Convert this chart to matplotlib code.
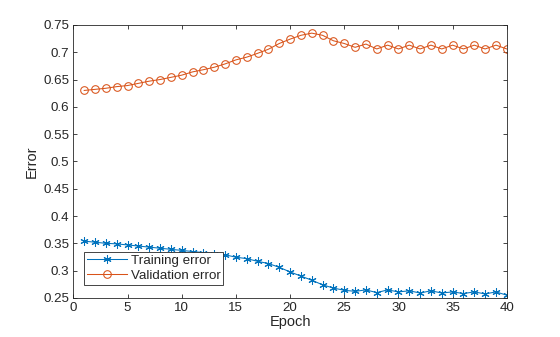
import matplotlib
matplotlib.use("Agg")
import matplotlib.pyplot as plt

epochs = list(range(1, 41))
training_error = [0.354, 0.352, 0.350, 0.349, 0.347, 0.345, 0.343, 0.341, 0.339, 0.337,
                  0.335, 0.333, 0.331, 0.329, 0.3245, 0.322, 0.317, 0.313, 0.306, 0.2976,
                  0.290, 0.2824, 0.274, 0.268, 0.264, 0.262, 0.2647, 0.2597, 0.2647, 0.261,
                  0.263, 0.259, 0.263, 0.259, 0.261, 0.258, 0.261, 0.2573, 0.261, 0.255]
validation_error = [0.630, 0.632, 0.634, 0.637, 0.639, 0.643, 0.647, 0.650, 0.654, 0.658,
                    0.664, 0.668, 0.6725, 0.6786, 0.686, 0.691, 0.698, 0.7055, 0.716, 0.724,
                    0.731, 0.735, 0.731, 0.721, 0.716, 0.709, 0.715, 0.706, 0.713, 0.706,
                    0.713, 0.706, 0.713, 0.706, 0.713, 0.706, 0.713, 0.706, 0.713, 0.706]
x_ticks = list(range(0, 41, 5))
y_ticks = [0.25, 0.3, 0.35, 0.4, 0.45, 0.5, 0.55, 0.6, 0.65, 0.7, 0.75]
y_tick_labels = ["0.25", "0.3", "0.35", "0.4", "0.45", "0.5", "0.55", "0.6", "0.65", "0.7", "0.75"]

plt.rcParams['font.family'] = ['Liberation Sans', 'DejaVu Sans']
dark = '#262626'
blue = '#0072BD'
orange = '#D95319'

fig = plt.figure(figsize=(5.6, 3.37), dpi=100)
ax = fig.add_axes([0.131, 0.116, 0.774, 0.81])

ax.plot(epochs, training_error, color=blue, lw=0.75, marker=(6, 2, 0),
        markersize=5.8, markeredgewidth=0.75, label='Training error')
ax.plot(epochs, validation_error, color=orange, lw=0.75, marker='o',
        markersize=5.5, markerfacecolor='none', markeredgewidth=0.75, label='Validation error')

ax.set_xlim(0, 40)
ax.set_ylim(0.25, 0.75)
ax.set_xticks(x_ticks)
ax.set_yticks(y_ticks)
ax.set_yticklabels(y_tick_labels)
ax.tick_params(direction='in', top=True, right=True, labelsize=9.6, colors=dark,
               length=3, width=0.6, pad=3)
for s in ax.spines.values():
    s.set_color(dark)
    s.set_linewidth(0.6)

ax.set_xlabel('Epoch', fontsize=10.5, color=dark, labelpad=1)
ax.set_ylabel('Error', fontsize=10.5, color=dark, labelpad=3)

leg = ax.legend(loc='lower left', bbox_to_anchor=(0.025, 0.048), borderaxespad=0,
                fontsize=9.6, frameon=True, fancybox=False, framealpha=1,
                handlelength=3.0, handletextpad=0.3, labelspacing=0.2, borderpad=0.2)
leg.get_frame().set_edgecolor(dark)
leg.get_frame().set_linewidth(0.6)
for t in leg.get_texts():
    t.set_color(dark)

fig.savefig('out.png', dpi=100)
